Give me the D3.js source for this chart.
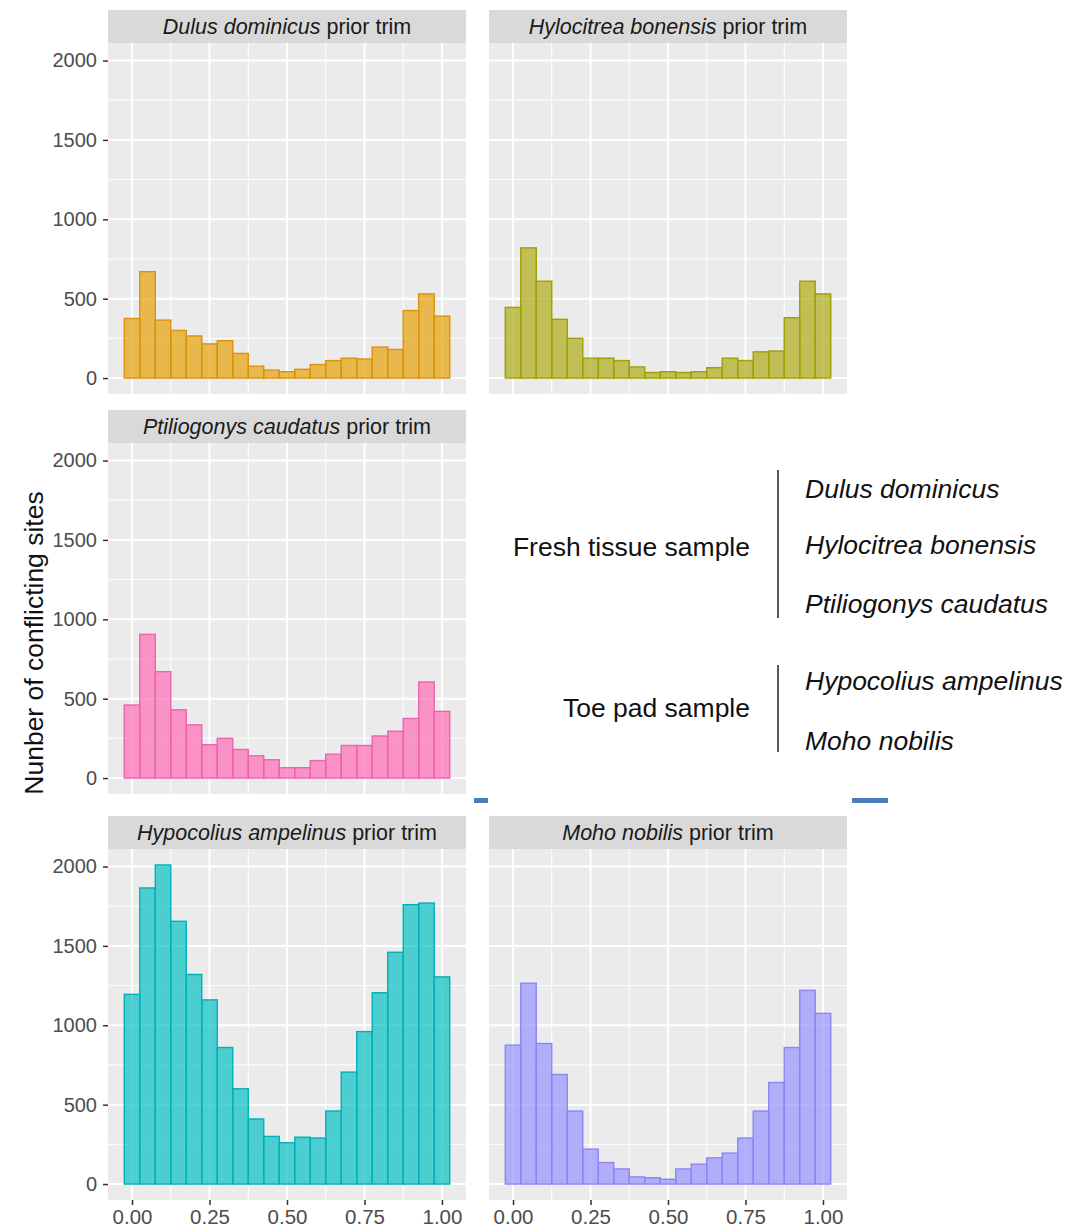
<!DOCTYPE html>
<html><head><meta charset="utf-8">
<script src="https://cdn.jsdelivr.net/npm/d3@7"></script>
<style>
body{margin:0;background:#fff;}
svg{display:block;font-family:"Liberation Sans",Arial,Helvetica,sans-serif;}
</style>
</head><body>
<svg id="chart" width="1080" height="1228"></svg>
<script>
// ---- data ----
const bins = [0.00,0.05,0.10,0.15,0.20,0.25,0.30,0.35,0.40,0.45,0.50,0.55,0.60,0.65,0.70,0.75,0.80,0.85,0.90,0.95,1.00];
const dulusDominicus      = [375,670,365,300,265,215,235,155,75,50,40,55,85,110,125,120,195,180,425,530,390];
const hylocitreaBonensis  = [445,820,610,370,250,125,125,110,70,35,40,35,40,65,125,110,165,170,380,610,530];
const ptiliogonysCaudatus = [460,905,670,430,335,210,250,180,140,115,65,65,110,150,205,205,265,295,375,605,420];
const hypocoliusAmpelinus = [1195,1865,2010,1655,1320,1160,860,600,410,300,260,295,290,460,705,960,1205,1460,1760,1770,1305];
const mohoNobilis         = [875,1265,885,690,460,220,135,95,45,40,30,95,125,165,195,290,460,640,860,1220,1075];

const speciesNames = ["Dulus dominicus","Hylocitrea bonensis","Ptiliogonys caudatus","Hypocolius ampelinus","Moho nobilis"];
const seriesValues = [dulusDominicus, hylocitreaBonensis, ptiliogonysCaudatus, hypocoliusAmpelinus, mohoNobilis];
const seriesColors = ["#E69F00","#A9AA0E","#FF69B4","#00BFC4","#9590FF"];
const strokeColors = ["#D9930A","#A0A000","#EE62B0","#00B0B8","#8C86F5"];
const yTickValues = [0,500,1000,1500,2000];
const yMinorValues = [250,750,1250,1750];
const xTickValues = [0,0.25,0.5,0.75,1];
const xMinorValues = [0.125,0.375,0.625,0.875];
const xTickLabels = ["0.00","0.25","0.50","0.75","1.00"];
const yAxisTitle = "Nunber of conflicting sites";
const groupLabels = ["Fresh tissue sample","Toe pad sample"];
const groupMembers = [[0,1,2],[3,4]];

// ---- layout ----
const panelW = 358, panelH = 351, stripH = 33;
const panelPos = [
  {x:108, y:43, yAxis:true,  xAxis:false},
  {x:489, y:43, yAxis:false, xAxis:false},
  {x:108, y:443, yAxis:true, xAxis:false},
  {x:108, y:849, yAxis:true, xAxis:true},
  {x:489, y:849, yAxis:false, xAxis:true}
];
const binW = 0.05;

const svg = d3.select("#chart");
const x = d3.scaleLinear().domain([-0.0775, 1.0775]).range([0, panelW]);
const y = d3.scaleLinear().domain([-100.5, 2110.5]).range([panelH, 0]);

seriesValues.forEach((vals, i) => {
  const p = panelPos[i];
  const g = svg.append("g").attr("transform", `translate(${p.x},${p.y})`);
  // strip
  g.append("rect").attr("x",0).attr("y",-stripH).attr("width",panelW).attr("height",stripH).attr("fill","#D9D9D9");
  const st = g.append("text").attr("x",panelW/2).attr("y",-stripH/2).attr("dy","0.36em")
    .attr("text-anchor","middle").attr("font-size",21.5).attr("fill","#1A1A1A");
  st.append("tspan").attr("font-style","italic").text(speciesNames[i]);
  st.append("tspan").text(" prior trim");
  // panel bg
  g.append("rect").attr("width",panelW).attr("height",panelH).attr("fill","#EBEBEB");
  // minor grid
  g.selectAll(".ymin").data(yMinorValues).enter().append("line")
    .attr("x1",0).attr("x2",panelW).attr("y1",d=>y(d)).attr("y2",d=>y(d))
    .attr("stroke","#fff").attr("stroke-width",1);
  g.selectAll(".xmin").data(xMinorValues).enter().append("line")
    .attr("y1",0).attr("y2",panelH).attr("x1",d=>x(d)).attr("x2",d=>x(d))
    .attr("stroke","#fff").attr("stroke-width",1);
  // major grid
  g.selectAll(".ymaj").data(yTickValues).enter().append("line")
    .attr("x1",0).attr("x2",panelW).attr("y1",d=>y(d)).attr("y2",d=>y(d))
    .attr("stroke","#fff").attr("stroke-width",2);
  g.selectAll(".xmaj").data(xTickValues).enter().append("line")
    .attr("y1",0).attr("y2",panelH).attr("x1",d=>x(d)).attr("x2",d=>x(d))
    .attr("stroke","#fff").attr("stroke-width",2);
  // bars
  g.selectAll(".bar").data(bins.map((b,k)=>({b, v:vals[k]}))).enter().append("rect")
    .attr("x", d=>x(d.b - binW/2))
    .attr("width", d=>x(d.b + binW/2) - x(d.b - binW/2))
    .attr("y", d=>y(d.v))
    .attr("height", d=>y(0) - y(d.v))
    .attr("fill", seriesColors[i]).attr("fill-opacity",0.68)
    .attr("stroke", strokeColors[i]).attr("stroke-width",1.4);
  // y axis
  if (p.yAxis) {
    const ya = g.append("g").call(d3.axisLeft(y).tickValues(yTickValues).tickSize(5).tickPadding(6).tickFormat(d3.format("d")));
    ya.select(".domain").remove();
    ya.selectAll("line").attr("stroke","#333").attr("stroke-width",1.5);
    ya.selectAll("text").attr("font-size",20).attr("fill","#4D4D4D").attr("font-family","Liberation Sans, Arial, sans-serif");
  }
  if (p.xAxis) {
    const xa = g.append("g").attr("transform",`translate(0,${panelH})`)
      .call(d3.axisBottom(x).tickValues(xTickValues).tickSize(5).tickPadding(4).tickFormat((d,k)=>xTickLabels[k]));
    xa.select(".domain").remove();
    xa.selectAll("line").attr("stroke","#333").attr("stroke-width",1.5);
    xa.selectAll("text").attr("font-size",20.5).attr("fill","#4D4D4D").attr("font-family","Liberation Sans, Arial, sans-serif");
  }
});

// y-axis title
svg.append("text").attr("transform","translate(33,643) rotate(-90)")
  .attr("text-anchor","middle").attr("dy","0.36em").attr("font-size",26.5).attr("fill","#111")
  .text(yAxisTitle);

// group legend
const legendGroups = [
  {labelY:546, lineY1:470, lineY2:618, itemYs:[488,544,603]},
  {labelY:707, lineY1:665, lineY2:752, itemYs:[680,740]}
];
legendGroups.forEach((lg, gi) => {
  svg.append("text").attr("x",750).attr("y",lg.labelY).attr("dy","0.36em")
    .attr("text-anchor","end").attr("font-size",26.5).attr("fill","#111").text(groupLabels[gi]);
  svg.append("line").attr("x1",778).attr("x2",778).attr("y1",lg.lineY1).attr("y2",lg.lineY2)
    .attr("stroke","#222").attr("stroke-width",1.5);
  groupMembers[gi].forEach((si, k) => {
    svg.append("text").attr("x",805).attr("y",lg.itemYs[k]).attr("dy","0.36em")
      .attr("font-size",26.5).attr("font-style","italic").attr("fill","#111").text(speciesNames[si]);
  });
});

// blue slide artifacts
svg.append("rect").attr("x",474).attr("y",798).attr("width",14).attr("height",5).attr("fill","#4A7EBB");
svg.append("rect").attr("x",852).attr("y",798).attr("width",36).attr("height",5).attr("fill","#4A7EBB");
</script>
</body></html>
